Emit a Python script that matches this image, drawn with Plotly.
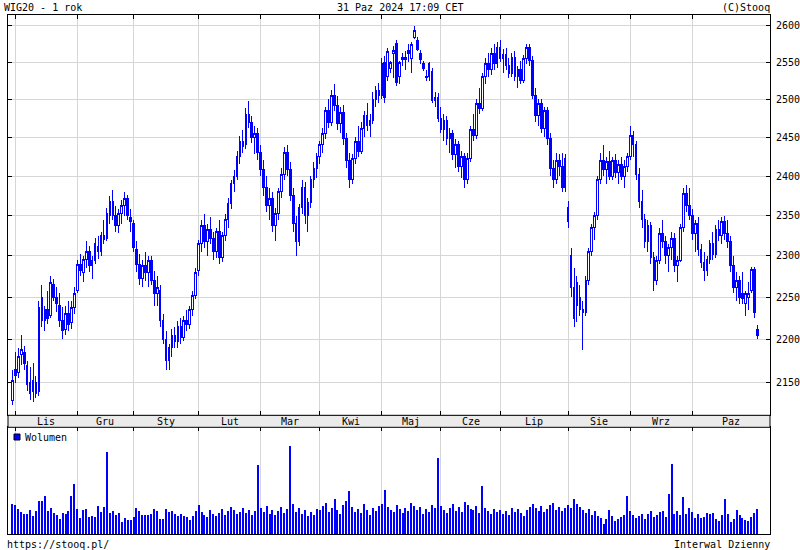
import pandas as pd
import plotly.graph_objects as go

# ---------------- data ----------------
holidays = ["2023-11-01", "2023-12-25", "2023-12-26", "2024-01-01", "2024-03-29",
            "2024-04-01", "2024-05-01", "2024-05-03", "2024-05-30", "2024-08-15"]

month_labels = ["Lis", "Gru", "Sty", "Lut", "Mar", "Kwi", "Maj", "Cze", "Lip", "Sie", "Wrz", "Paz"]
price_ticks = [2150, 2200, 2250, 2300, 2350, 2400, 2450, 2500, 2550, 2600]

open_ = [
    2130,
    2165, 2162, 2182, 2185, 2170, 2150, 2140, 2150, 2140, 2250, 2222, 2235, 2228, 2265, 2250, 2240, 2222, 2212, 2230, 2220, 2238,
    2258, 2290, 2280, 2296, 2305, 2288, 2295, 2312, 2305, 2325, 2322, 2350, 2368, 2350, 2338, 2352, 2362, 2372, 2348,
    2340, 2308, 2290, 2272, 2288, 2280, 2295, 2270, 2255, 2258, 2222, 2200, 2175, 2190, 2205, 2198, 2215, 2202, 2222, 2218, 2235, 2252,
    2282, 2315, 2338, 2318, 2332, 2322, 2305, 2330, 2298, 2325, 2345, 2365, 2390, 2400, 2425, 2445, 2440, 2480, 2470, 2450, 2455,
    2430, 2408, 2385, 2362, 2372, 2338, 2352, 2380, 2402, 2430, 2408, 2375, 2340, 2318, 2360, 2385, 2350, 2366, 2395, 2410,
    2425, 2440, 2455, 2485, 2470, 2505, 2492, 2468, 2482, 2448, 2420, 2395, 2422, 2445, 2432, 2462, 2478, 2465, 2472, 2500, 2512,
    2505, 2550, 2530, 2542, 2562, 2575, 2530, 2553, 2553, 2566, 2555, 2584, 2580, 2562, 2548, 2529, 2530, 2538, 2498, 2502,
    2475, 2460, 2472, 2448, 2455, 2428, 2440, 2412, 2425, 2395, 2422, 2460, 2452, 2495, 2488, 2530, 2548, 2540, 2562, 2548,
    2570, 2555, 2560, 2545, 2535, 2556, 2530, 2540, 2525, 2555, 2570, 2552, 2505, 2478, 2495, 2462, 2485, 2448, 2410, 2395, 2420, 2412, 2385,
    2360, 2300, 2262, 2240, 2250, 2235, 2232, 2270, 2305, 2335, 2350, 2395, 2420, 2408, 2418, 2400, 2420, 2405, 2415, 2400, 2412,
    2425, 2452, 2440, 2402, 2368, 2345, 2318, 2338, 2298, 2270, 2295, 2328, 2318, 2300, 2310, 2322, 2288, 2295, 2335, 2378, 2362,
    2350, 2328, 2340, 2308, 2292, 2282, 2296, 2315, 2302, 2332, 2325, 2342, 2328, 2318, 2288, 2262, 2270, 2255, 2242, 2250, 2258, 2284, 2212,
]
high = [
    2165,
    2185, 2190, 2205, 2192, 2175, 2168, 2172, 2158, 2245, 2265, 2240, 2258, 2275, 2272, 2262, 2255, 2238, 2240, 2245, 2245, 2262,
    2295, 2302, 2300, 2318, 2312, 2300, 2322, 2325, 2330, 2345, 2360, 2375, 2382, 2362, 2358, 2370, 2380, 2376, 2358,
    2345, 2318, 2302, 2295, 2305, 2300, 2300, 2282, 2275, 2265, 2230, 2210, 2195, 2212, 2215, 2222, 2225, 2228, 2235, 2240, 2258, 2285,
    2320, 2345, 2352, 2340, 2348, 2330, 2335, 2345, 2330, 2352, 2372, 2395, 2408, 2432, 2452, 2460, 2488, 2498, 2478, 2465, 2462,
    2440, 2420, 2400, 2385, 2380, 2360, 2385, 2410, 2438, 2440, 2418, 2385, 2350, 2365, 2395, 2392, 2372, 2400, 2418, 2430,
    2445, 2462, 2490, 2500, 2512, 2520, 2505, 2490, 2492, 2455, 2430, 2428, 2450, 2465, 2470, 2485, 2495, 2480, 2510, 2518, 2522,
    2555, 2558, 2570, 2552, 2572, 2580, 2552, 2562, 2565, 2575, 2577, 2600, 2584, 2566, 2552, 2540, 2550, 2542, 2510, 2508,
    2490, 2480, 2478, 2462, 2460, 2448, 2445, 2432, 2430, 2430, 2465, 2480, 2500, 2515, 2535, 2555, 2562, 2570, 2575, 2578,
    2580, 2568, 2570, 2555, 2562, 2565, 2545, 2552, 2560, 2575, 2575, 2558, 2515, 2500, 2500, 2490, 2490, 2455, 2420, 2430, 2428, 2430, 2428,
    2368, 2310, 2285, 2275, 2265, 2245, 2275, 2310, 2340, 2355, 2400, 2430, 2440, 2425, 2432, 2425, 2428, 2420, 2425, 2420, 2430,
    2465, 2458, 2445, 2410, 2382, 2352, 2345, 2342, 2305, 2300, 2335, 2345, 2325, 2315, 2330, 2328, 2300, 2340, 2385, 2388, 2385,
    2358, 2345, 2348, 2315, 2305, 2300, 2320, 2330, 2338, 2345, 2348, 2350, 2345, 2325, 2300, 2280, 2275, 2280, 2258, 2268, 2287, 2286, 2217,
]
low = [
    2124,
    2150, 2155, 2170, 2165, 2140, 2130, 2128, 2132, 2135, 2215, 2210, 2218, 2225, 2245, 2232, 2215, 2200, 2205, 2210, 2212, 2230,
    2255, 2275, 2268, 2285, 2280, 2272, 2290, 2296, 2300, 2315, 2318, 2340, 2345, 2330, 2328, 2340, 2350, 2345, 2330,
    2305, 2280, 2265, 2262, 2270, 2262, 2265, 2240, 2240, 2215, 2195, 2165, 2165, 2180, 2190, 2190, 2195, 2198, 2210, 2212, 2228, 2248,
    2275, 2305, 2310, 2300, 2315, 2295, 2298, 2290, 2292, 2318, 2335, 2358, 2380, 2395, 2415, 2430, 2435, 2462, 2442, 2428, 2420,
    2400, 2375, 2355, 2345, 2330, 2318, 2345, 2372, 2395, 2400, 2368, 2330, 2300, 2312, 2352, 2340, 2330, 2360, 2385, 2398,
    2415, 2430, 2448, 2462, 2465, 2485, 2460, 2455, 2440, 2410, 2385, 2390, 2415, 2425, 2428, 2450, 2458, 2450, 2468, 2490, 2495,
    2500, 2495, 2525, 2535, 2528, 2518, 2520, 2545, 2540, 2550, 2535, 2582, 2565, 2548, 2538, 2525, 2525, 2495, 2490, 2470,
    2455, 2445, 2440, 2430, 2420, 2410, 2405, 2398, 2385, 2390, 2418, 2445, 2448, 2480, 2485, 2520, 2530, 2532, 2540, 2542,
    2550, 2535, 2540, 2528, 2530, 2525, 2515, 2520, 2522, 2548, 2545, 2500, 2470, 2465, 2455, 2450, 2440, 2400, 2385, 2390, 2400, 2380, 2380,
    2335, 2250, 2215, 2220, 2228, 2188, 2228, 2265, 2300, 2320, 2345, 2390, 2400, 2390, 2395, 2395, 2398, 2390, 2395, 2385, 2405,
    2420, 2425, 2395, 2360, 2335, 2310, 2305, 2290, 2258, 2265, 2290, 2310, 2290, 2280, 2295, 2280, 2268, 2292, 2330, 2355, 2345,
    2320, 2305, 2300, 2285, 2270, 2275, 2290, 2295, 2298, 2318, 2315, 2320, 2310, 2280, 2255, 2245, 2242, 2242, 2228, 2235, 2255, 2225, 2200,
]
close = [
    2152,
    2158, 2180, 2188, 2172, 2148, 2138, 2152, 2138, 2238, 2222, 2235, 2225, 2268, 2250, 2242, 2222, 2210, 2230, 2218, 2238, 2255,
    2290, 2282, 2296, 2305, 2288, 2295, 2315, 2305, 2325, 2320, 2352, 2368, 2350, 2338, 2352, 2362, 2372, 2350, 2342,
    2310, 2290, 2272, 2288, 2280, 2295, 2270, 2255, 2262, 2222, 2200, 2175, 2190, 2205, 2198, 2215, 2202, 2222, 2218, 2235, 2252, 2280,
    2315, 2338, 2318, 2332, 2322, 2305, 2330, 2298, 2325, 2345, 2365, 2390, 2400, 2425, 2445, 2438, 2480, 2470, 2450, 2455, 2430,
    2408, 2385, 2362, 2372, 2338, 2352, 2380, 2402, 2430, 2408, 2375, 2340, 2318, 2360, 2385, 2350, 2366, 2395, 2410, 2425,
    2440, 2455, 2485, 2470, 2505, 2492, 2468, 2482, 2448, 2420, 2395, 2422, 2445, 2432, 2462, 2478, 2465, 2472, 2500, 2512, 2505,
    2548, 2502, 2565, 2550, 2566, 2522, 2549, 2557, 2557, 2562, 2574, 2594, 2567, 2553, 2541, 2530, 2548, 2498, 2502, 2475,
    2460, 2472, 2448, 2455, 2428, 2440, 2412, 2425, 2395, 2422, 2460, 2452, 2495, 2488, 2530, 2548, 2540, 2562, 2548, 2570,
    2555, 2560, 2545, 2535, 2556, 2530, 2540, 2525, 2555, 2570, 2552, 2505, 2478, 2495, 2462, 2485, 2448, 2410, 2395, 2420, 2412, 2385, 2422,
    2342, 2262, 2225, 2268, 2235, 2232, 2270, 2305, 2335, 2350, 2395, 2420, 2408, 2418, 2400, 2420, 2405, 2415, 2400, 2412, 2425,
    2452, 2440, 2402, 2368, 2345, 2318, 2338, 2298, 2270, 2295, 2328, 2318, 2300, 2310, 2322, 2288, 2295, 2335, 2378, 2362, 2350,
    2328, 2340, 2308, 2292, 2282, 2296, 2315, 2302, 2332, 2325, 2342, 2328, 2318, 2288, 2262, 2270, 2250, 2248, 2255, 2254, 2284, 2232, 2205,
]
volume = [
    29.7, 28.7, 25, 21.7, 19.7, 19.7, 23.7, 18, 23, 32.7,
    32.7, 37.7, 22.7, 26.3, 21, 18.7, 14.7, 20.7, 19.7, 22.7,
    37.7, 49.7, 24.7, 15.7, 24.3, 24.7, 16.7, 18, 16.7, 27.7,
    22, 26.7, 81.7, 20.7, 22.7, 18.7, 20.7, 11.7, 16.3, 13.7,
    13.7, 16.7, 25.7, 22.7, 19.3, 18.7, 18.7, 19.7, 24.7, 23,
    14.7, 14.7, 24.7, 22, 22.7, 19.7, 17.7, 19.7, 17.7, 16.7,
    13.7, 17.7, 22.7, 28.7,
    22, 19, 17, 24, 20, 18, 21, 25, 19, 23, 27, 24, 20, 22, 26, 21, 24, 19, 23, 69,
    26, 22, 28, 20, 24, 19, 23, 27, 21, 25, 88, 30, 22, 26, 20, 24, 18, 22, 19, 25,
    24, 28, 31, 22, 26, 35, 24, 20, 29, 33, 43, 27, 22, 25, 21, 30, 24, 19, 26, 23, 28,
    30, 44, 27, 24, 22, 29, 25, 21, 26, 23, 31, 28, 24, 27, 20, 25, 22, 29, 26, 76,
    28, 24, 21, 26, 30, 23, 27, 22, 32, 29, 25, 24, 28, 21, 48, 26, 23, 20, 25, 22,
    24, 20, 23, 19, 26, 22, 25, 21, 18, 24, 27, 30, 26, 23, 28, 22, 25, 29, 31, 24, 27, 23, 26,
    29, 26, 35, 30, 27, 24, 21, 25, 19, 23, 18,
    16, 9.7, 14.7, 23.7, 17.7, 12.7, 14.7, 16.7, 18.7, 37.7,
    22.7, 18.7, 15.7, 17.7, 19.7, 14.7, 19.7, 22.7, 16.7, 18.7,
    21.7, 22.7, 16.7, 39.7, 69.7, 19.7, 22.7, 18.7, 36.7, 19.7,
    25.7, 21.7, 15.7, 19.7, 15.7, 16.7, 20.7, 19.7, 20.7, 14.7,
    12.7, 18.7, 34.7, 19.7, 11.7, 14.7, 23.7, 18.7, 15.7, 13.7,
    12.7, 16.7, 20.7, 24.7,
]

# ---------------- trading calendar ----------------
days = pd.bdate_range("2023-10-31", "2024-10-31")
days = days[~days.isin(pd.to_datetime(holidays))]
n = len(days)
idx = list(range(n))
dates = [d.strftime("%Y-%m-%d") for d in days]

months = days.to_period("M")
month_starts = [i for i in range(1, n) if months[i] != months[i - 1]]
x_lo, x_hi = -1.47, 256.3
bounds = month_starts + [x_hi]
label_pos = [(bounds[k] + bounds[k + 1]) / 2 for k in range(len(month_starts))]

FONT = "DejaVu Sans Mono"
BLUE = "#0000ff"
GRID = "#d6d6d6"

# layout geometry (pixels)
W, H = 800, 550
ML, MR, MT, MB = 8, 30, 15, 16
ph = H - MT - MB
pw = W - ML - MR
def py(y):
    return (H - MB - y) / ph
def px(x):
    return (x - ML) / pw

main_bottom = py(415.3)
vol_top = py(427.3)

fig = go.Figure()
fig.add_trace(go.Candlestick(
    x=idx, open=open_, high=high, low=low, close=close,
    increasing=dict(line=dict(color=BLUE, width=1), fillcolor="white"),
    decreasing=dict(line=dict(color=BLUE, width=1), fillcolor=BLUE),
    whiskerwidth=0, customdata=dates, name="WIG20",
    xaxis="x", yaxis="y",
))
fig.add_trace(go.Bar(
    x=idx, y=volume, marker=dict(color=BLUE, line=dict(width=0)),
    width=0.36, name="Wolumen", xaxis="x2", yaxis="y2",
))

axis_common = dict(linecolor="black", linewidth=1, tickcolor="black", tickwidth=1,
                   ticklen=4, ticks="inside", zeroline=False, automargin=False)

fig.update_layout(
    width=W, height=H, autosize=False,
    margin=dict(l=ML, r=MR, t=MT, b=MB, pad=0, autoexpand=False),
    paper_bgcolor="white", plot_bgcolor="white",
    showlegend=False, boxgap=0.2,
    font=dict(family=FONT, size=10, color="black"),
    xaxis=dict(domain=[0, 1], range=[x_lo, x_hi], tickvals=month_starts,
               showticklabels=False, showgrid=True, gridcolor=GRID, gridwidth=1,
               showline=True, mirror="ticks", rangeslider=dict(visible=False),
               anchor="y", **axis_common),
    yaxis=dict(domain=[main_bottom, 1], type="log",
               range=[3.32487, 3.41745], tickvals=price_ticks,
               ticktext=[str(v) for v in price_ticks], side="right",
               showgrid=True, gridcolor=GRID, gridwidth=1,
               showline=True, mirror="ticks", ticklabelstandoff=3,
               tickfont=dict(family=FONT, size=10), anchor="x", **axis_common),
    xaxis2=dict(domain=[0, 1], range=[x_lo, x_hi], tickvals=month_starts,
                showticklabels=False, showgrid=True, gridcolor=GRID, gridwidth=1,
                showline=True, mirror=True, side="top", anchor="y2", **axis_common),
    yaxis2=dict(domain=[0, vol_top], range=[0, 106.7], showticklabels=False,
                showgrid=False, showline=True, mirror=True, ticks="",
                linecolor="black", linewidth=1, zeroline=False, anchor="x2",
                automargin=False),
)

# grey month-label band between panels
fig.add_shape(type="rect", xref="paper", yref="paper", x0=0, x1=1,
              y0=vol_top, y1=main_bottom, fillcolor="#ebebeb",
              line=dict(color="black", width=1), layer="above")

for lab, pos in zip(month_labels, label_pos):
    fig.add_annotation(x=pos, y=py(421.3), xref="x", yref="paper", text=lab,
                       showarrow=False, xanchor="center", yanchor="middle",
                       font=dict(family=FONT, size=10))

# legend for volume
fig.add_shape(type="rect", xref="paper", yref="paper", x0=px(14), x1=px(20),
              y0=py(440), y1=py(434), fillcolor=BLUE, line=dict(color="black", width=1))
fig.add_annotation(x=px(23), y=py(437), xref="paper", yref="paper", text="Wolumen",
                   showarrow=False, xanchor="left", yanchor="middle",
                   font=dict(family=FONT, size=10))

# header / footer texts
def txt(t, x, y, anchor):
    fig.add_annotation(x=px(x), y=py(y), xref="paper", yref="paper", text=t,
                       showarrow=False, xanchor=anchor, yanchor="middle",
                       font=dict(family=FONT, size=10), borderpad=0)

txt("WIG20 - 1 rok", 3, 7, "left")
txt("31 Paz 2024 17:09 CET", 400, 7, "center")
txt("(C)Stooq", 771, 7, "right")
txt("https://stooq.pl/", 6, 544, "left")
txt("Interwal Dzienny", 771, 544, "right")

post = (
    "document.body.style.margin='0';document.body.style.overflow='hidden';"
    "document.querySelectorAll('.boxlayer path, .barlayer path').forEach(function(p){"
    "p.style.shapeRendering='crispEdges';});"
)
fig.write_html("out.html", config={"displayModeBar": False}, post_script=post)
